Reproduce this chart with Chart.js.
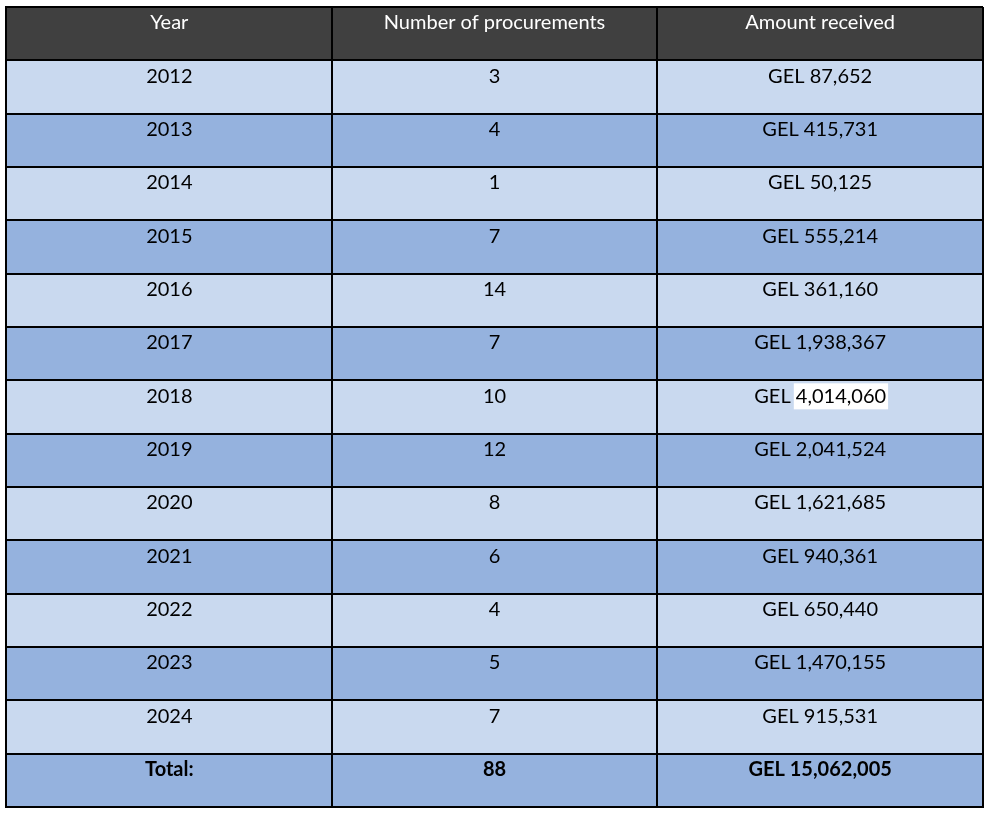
<!DOCTYPE html>
<html>
<head>
<meta charset="utf-8">
<script src="https://cdn.jsdelivr.net/npm/chart.js@4.4.1/dist/chart.umd.min.js"></script>
<style>
  html, body { margin: 0; padding: 0; background: #ffffff; }
  #wrap { width: 988px; height: 814px; position: relative; }
</style>
</head>
<body>
<div id="wrap"><canvas id="c"></canvas></div>
<script>
// ---- data ----
const headers = ['Year', 'Number of procurements', 'Amount received'];
const years = ['2012', '2013', '2014', '2015', '2016', '2017', '2018', '2019', '2020', '2021', '2022', '2023', '2024'];
const procurements = [3, 4, 1, 7, 14, 7, 10, 12, 8, 6, 4, 5, 7];
const amounts = [87652, 415731, 50125, 555214, 361160, 1938367, 4014060, 2041524, 1621685, 940361, 650440, 1470155, 915531];
const totalLabel = 'Total:';
const totalProcurements = 88;
const totalAmount = 15062005;
const currency = 'GEL';
const highlightedYear = '2018';

// ---- styles ----
const headerFill = '#404040';
const lightFill = '#C9D9EF';
const darkFill = '#95B2DE';
const fontFamily = 'Lato, "Open Sans", sans-serif';
const fontSize = 20;

const rowKeys = ['header'].concat(years, ['total']);
const fmt = v => v.toLocaleString('en-US');

function cellText(row, col) {
  if (row === 0) return headers[col];
  if (row === rowKeys.length - 1) {
    return [totalLabel, String(totalProcurements), currency + ' ' + fmt(totalAmount)][col];
  }
  const i = row - 1;
  return [years[i], String(procurements[i]), currency + ' ' + fmt(amounts[i])][col];
}
function rowFill(row) {
  if (row === 0) return headerFill;
  return (row % 2 === 1) ? lightFill : darkFill;
}

const datasets = headers.map((h, col) => ({
  label: h,
  data: rowKeys.map(() => 1),
  backgroundColor: rowKeys.map((k, r) => rowFill(r)),
  borderWidth: 0,
  categoryPercentage: 1.0,
  barPercentage: 1.0
}));

const textPlugin = {
  id: 'cellText',
  afterDraw(chart) {
    const ctx = chart.ctx;
    ctx.save();
    ctx.textAlign = 'center';
    ctx.textBaseline = 'middle';
    chart.data.datasets.forEach((ds, col) => {
      const meta = chart.getDatasetMeta(col);
      meta.data.forEach((el, row) => {
        const cx = (el.x + el.base) / 2;
        const top = el.y - el.height / 2;
        const ty = top + 16;
        const bold = row === rowKeys.length - 1;
        ctx.font = (bold ? 'bold ' : '') + fontSize + 'px ' + fontFamily;
        const txt = cellText(row, col);
        if (row > 0 && rowKeys[row] === highlightedYear && col === 2) {
          const full = ctx.measureText(txt).width;
          const pre = ctx.measureText(currency + ' ').width;
          const x0 = cx - full / 2 + pre - 2;
          ctx.fillStyle = '#ffffff';
          ctx.fillRect(x0, ty - 13, full - pre + 4, 26);
        }
        ctx.fillStyle = row === 0 ? '#ffffff' : '#000000';
        ctx.fillText(txt, cx, ty);
      });
    });
    ctx.restore();
  }
};

new Chart(document.getElementById('c'), {
  type: 'bar',
  data: { labels: rowKeys, datasets },
  plugins: [textPlugin],
  options: {
    indexAxis: 'y',
    responsive: true,
    maintainAspectRatio: false,
    animation: false,
    events: [],
    layout: { padding: { left: 6, right: 5, top: 7, bottom: 7 } },
    plugins: { legend: { display: false }, tooltip: { enabled: false } },
    scales: {
      x: {
        type: 'linear', stacked: true, min: 0, max: headers.length,
        ticks: { display: false, stepSize: 1 },
        grid: { color: '#000000', lineWidth: 2, drawTicks: false, z: 1 },
        border: { display: true, color: '#000000', width: 2, z: 1 }
      },
      y: {
        type: 'category', stacked: true, offset: true,
        ticks: { display: false },
        grid: { offset: true, color: '#000000', lineWidth: 2, drawTicks: false, z: 1 },
        border: { display: true, color: '#000000', width: 2, z: 1 }
      }
    }
  }
});
</script>
</body>
</html>
